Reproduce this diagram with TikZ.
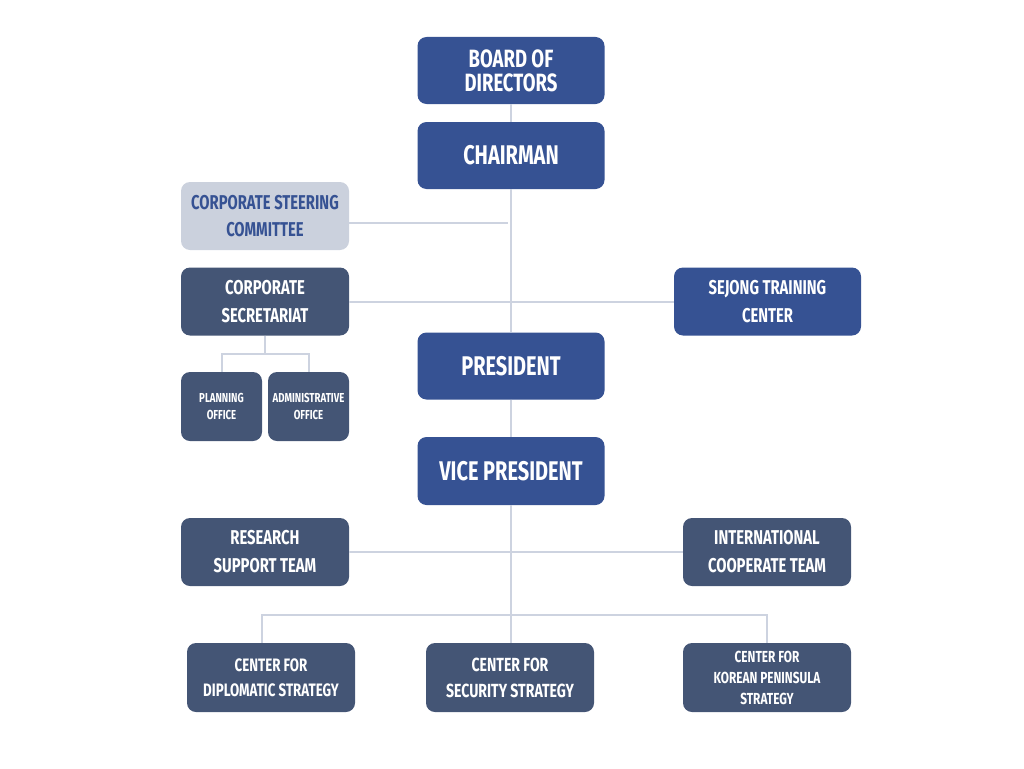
\documentclass[tikz,border=0pt]{standalone}
\usepackage{fontspec}
\setmainfont{Fira Sans}[FakeStretch=0.74]
\usetikzlibrary{positioning}
\definecolor{orgblue}{HTML}{365293}
\definecolor{orgslate}{HTML}{445575}
\definecolor{orglight}{HTML}{CBD1DD}
\definecolor{orgline}{HTML}{CDD3E0}
\newcommand*{\orgfont}[2]{\fontsize{#1}{#2}\selectfont\bfseries}

\begin{document}
\begin{tikzpicture}[
        x=1pt, y=-1pt,
        box/.style={rounded corners=9pt, inner sep=0pt, align=center,
          text=white, minimum width=187pt, minimum height=67pt},
        topbox/.style={box, fill=orgblue},
        unitbox/.style={box, fill=orgslate, minimum width=168pt, minimum height=68pt},
        lightbox/.style={box, fill=orglight, text=orgblue, minimum width=168pt, minimum height=68pt},
        smallbox/.style={unitbox, minimum width=81pt, minimum height=69pt},
        link/.style={draw=orgline, line width=2pt},
        ]
        \useasboundingbox (0,0) rectangle (1024,768);

        % top line
        \node[topbox, font=\orgfont{25}{24}] (board) at (511,70.5) {BOARD OF\\DIRECTORS};
        \node[topbox, font=\orgfont{27}{30}] (chair) at (511,155.5) {CHAIRMAN};
        \node[topbox, font=\orgfont{27}{30}] (pres)  at (511,366)   {PRESIDENT};
        \node[topbox, font=\orgfont{27}{30}, minimum height=68pt] (vp) at (511,471) {VICE PRESIDENT};

        % side units
        \node[lightbox, font=\orgfont{20}{27}] (steer) at (265,216) {CORPORATE STEERING\\COMMITTEE};
        \node[unitbox, font=\orgfont{20}{28}] (sec) at (265,301.5) {CORPORATE\\SECRETARIAT};
        \node[topbox, font=\orgfont{20}{28}, minimum height=68pt] (sejong) at (767.5,301.5) {SEJONG TRAINING\\CENTER};
        \node[smallbox, font=\orgfont{13}{17}] (plan)  at (221.5,406.5) {PLANNING\\OFFICE};
        \node[smallbox, font=\orgfont{13}{17}] (admin) at (308.5,406.5) {ADMINISTRATIVE\\OFFICE};

        % teams and centers
        \node[unitbox, font=\orgfont{20}{28}] (research) at (265,552) {RESEARCH\\SUPPORT TEAM};
        \node[unitbox, font=\orgfont{20}{28}] (intl) at (767,552) {INTERNATIONAL\\COOPERATE TEAM};
        \node[unitbox, font=\orgfont{18}{25}, minimum height=69pt] (dip) at (271,677.5) {CENTER FOR\\DIPLOMATIC STRATEGY};
        \node[unitbox, font=\orgfont{19}{26}, minimum height=69pt] (secu) at (510,677.5) {CENTER FOR\\SECURITY STRATEGY};
        \node[unitbox, font=\orgfont{16}{21}, minimum height=69pt] (kor) at (767,677.5) {CENTER FOR\\KOREAN PENINSULA\\STRATEGY};

        \path[link] (board) -- (chair)
        (chair) -- (pres)
        (pres) -- (vp)
        (vp.south) -- (vp.south |- secu.north)
        ([yshift=-7pt]steer.east) -- ([yshift=-7pt,xshift=-3pt]steer.east -| chair.south)
        (sec) -- (sejong)
        (research) -- (intl);

        \draw[link] (sec.south) -- ++(0,18) coordinate (secfork);
        \draw[link] (plan.north) |- (secfork) -| (admin.north);
        \coordinate (cfork) at (vp.south |- 0,615);
        \draw[link] ([xshift=-9pt]dip.north) |- (cfork) -| (kor.north);
      \end{tikzpicture}
\end{document}
